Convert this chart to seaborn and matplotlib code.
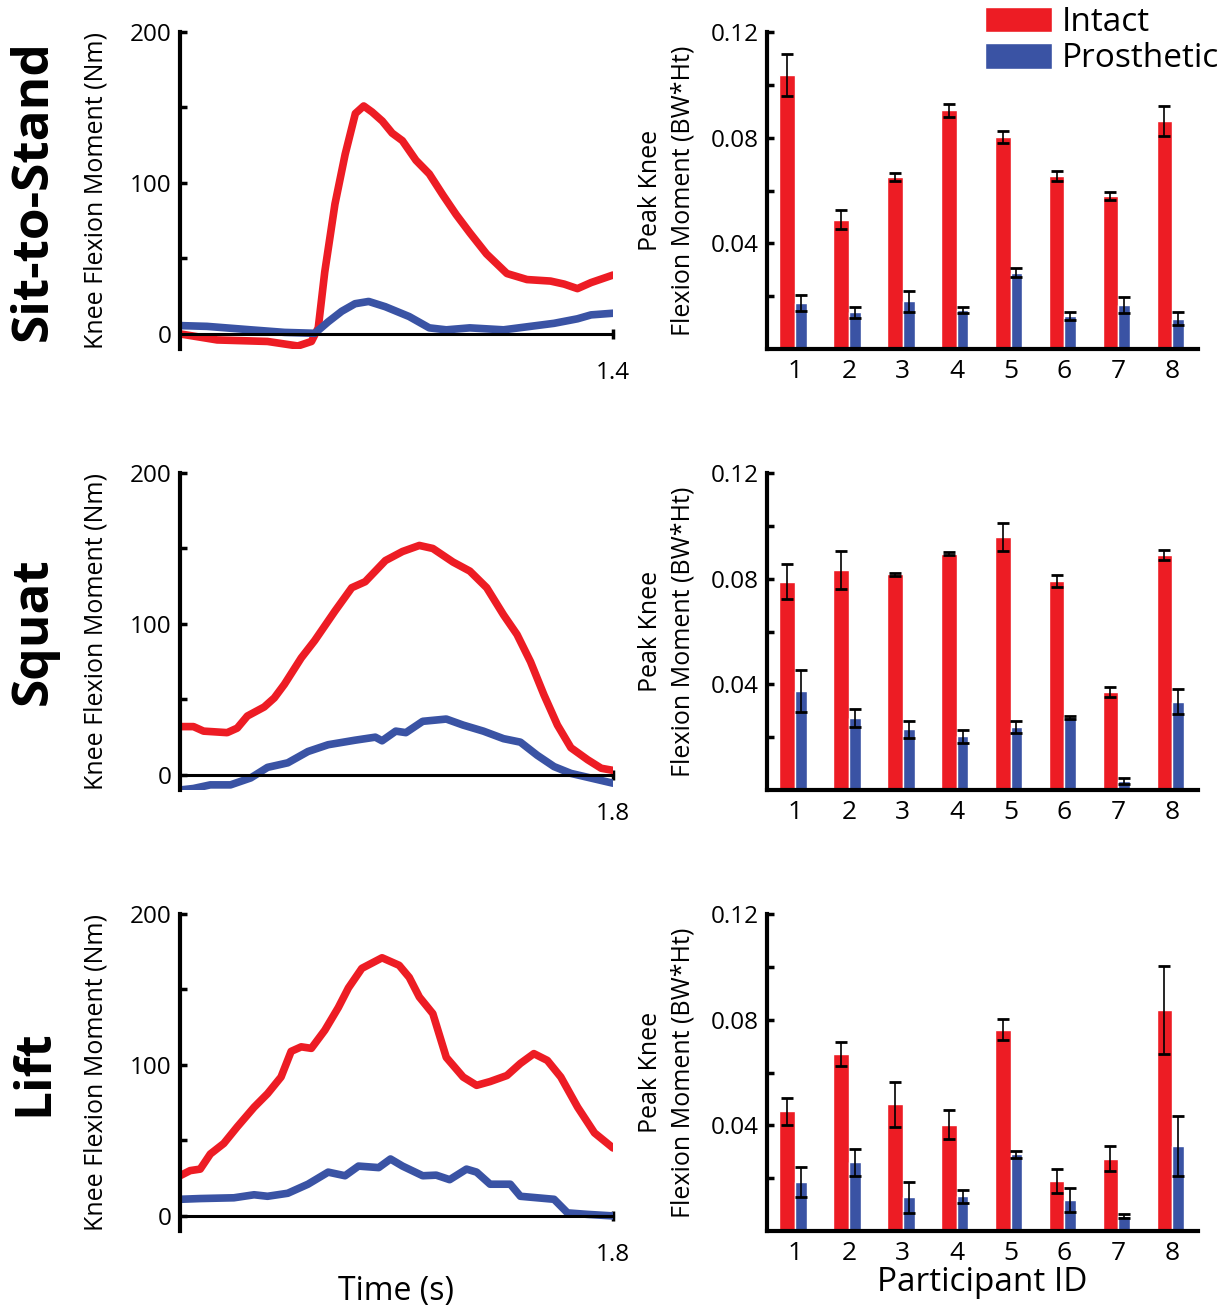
import pandas as pd
import seaborn as sns
import matplotlib.pyplot as plt
from matplotlib.patches import Patch
from matplotlib.ticker import FixedLocator

RED = '#ED1C24'
BLUE = '#3A53A4'

tasks = ['Sit-to-Stand', 'Squat', 'Lift']
durations = [1.4, 1.8, 1.8]

# knee flexion moment time series (Nm)
sts_intact_t = [0, 0.12, 0.283, 0.381, 0.425, 0.447, 0.468, 0.501, 0.534, 0.567, 0.594, 0.621, 0.654, 0.686,
                0.719, 0.763, 0.806, 0.850, 0.893, 0.937, 0.991, 1.057, 1.122, 1.198, 1.242, 1.285, 1.329, 1.40]
sts_intact = [0, -4, -5, -8, -5, 4, 41, 86, 119, 146, 151, 147, 141, 133,
              128, 115, 106, 92, 79, 67, 53, 40, 36, 35, 33, 30, 34, 39]
sts_prosth_t = [0, 0.087, 0.229, 0.338, 0.436, 0.479, 0.523, 0.566, 0.610, 0.664, 0.741, 0.806, 0.861, 0.937,
                1.046, 1.133, 1.209, 1.285, 1.329, 1.40]
sts_prosth = [5.5, 5, 2.7, 1, 0.4, 8, 15, 20, 21.5, 18, 11.5, 4, 2.7, 4,
              2.7, 5, 7, 10, 12.6, 13.7]

squat_intact_t = [0, 0.056, 0.098, 0.196, 0.238, 0.280, 0.350, 0.392, 0.434, 0.504, 0.560, 0.644, 0.714, 0.770,
                  0.854, 0.925, 0.995, 1.051, 1.135, 1.205, 1.275, 1.345, 1.401, 1.457, 1.513, 1.569, 1.625,
                  1.695, 1.751, 1.80]
squat_intact = [32, 32, 29, 28, 31, 39, 45, 51, 60, 77.5, 89, 108.5, 124, 128,
                142, 148, 152, 150, 141, 135, 124, 106, 93, 75, 53, 33, 18,
                10, 4.4, 3]
squat_prosth_t = [0, 0.056, 0.126, 0.210, 0.294, 0.364, 0.448, 0.532, 0.616, 0.728, 0.812, 0.840, 0.897, 0.939,
                  1.009, 1.107, 1.177, 1.261, 1.345, 1.415, 1.485, 1.555, 1.625, 1.80]
squat_prosth = [-10, -9, -6.6, -6.6, -2, 5, 8, 15.5, 20, 23, 25, 22.6, 29, 28,
                35.5, 37, 33, 29, 24, 21.7, 13, 5.5, 1, -5.5]

lift_intact_t = [0, 0.042, 0.084, 0.126, 0.182, 0.238, 0.308, 0.364, 0.420, 0.462, 0.504, 0.546, 0.602, 0.658,
                 0.700, 0.756, 0.840, 0.911, 0.953, 0.995, 1.051, 1.107, 1.177, 1.233, 1.289, 1.359, 1.415,
                 1.471, 1.527, 1.583, 1.653, 1.723, 1.80]
lift_intact = [26.6, 30, 31, 41, 48, 59, 72, 81, 92, 109, 112, 111, 123, 138,
               151, 164, 171, 166, 158, 145, 134, 105, 92, 86.5, 89, 93, 101,
               107.5, 103, 92, 72, 55, 45]
lift_prosth_t = [0, 0.084, 0.224, 0.308, 0.364, 0.448, 0.532, 0.616, 0.686, 0.742, 0.826, 0.875, 0.925, 1.009,
                 1.065, 1.121, 1.191, 1.233, 1.289, 1.373, 1.415, 1.485, 1.555, 1.611, 1.695, 1.80]
lift_prosth = [11, 11.5, 12, 14, 13, 15, 21, 29, 26.6, 33, 32, 37.7, 33, 26.6,
               27, 24, 31, 29, 21, 21, 13, 12, 11, 2, 1, 0]

# peak knee flexion moment (BW*Ht) per participant, mean and error
participants = [1, 2, 3, 4, 5, 6, 7, 8]
sts_peak_intact = [0.1038, 0.049, 0.0652, 0.0903, 0.0804, 0.0654, 0.0578, 0.0863]
sts_err_intact = [0.008, 0.0035, 0.0016, 0.0025, 0.0023, 0.0019, 0.0015, 0.0055]
sts_peak_prosth = [0.0175, 0.0139, 0.018, 0.0148, 0.0289, 0.0125, 0.0167, 0.0115]
sts_err_prosth = [0.003, 0.002, 0.004, 0.001, 0.0018, 0.0015, 0.003, 0.0024]

squat_peak_intact = [0.0789, 0.0832, 0.0816, 0.0895, 0.0956, 0.0791, 0.0371, 0.089]
squat_err_intact = [0.0066, 0.0073, 0.0005, 0.0006, 0.0053, 0.0022, 0.0018, 0.0018]
squat_peak_prosth = [0.0376, 0.0272, 0.023, 0.0203, 0.0238, 0.0275, 0.0034, 0.0335]
squat_err_prosth = [0.008, 0.0035, 0.0033, 0.0025, 0.0024, 0.0006, 0.0013, 0.0047]

lift_peak_intact = [0.0453, 0.0669, 0.048, 0.0403, 0.0762, 0.019, 0.0273, 0.0836]
lift_err_intact = [0.005, 0.0045, 0.0085, 0.0055, 0.004, 0.0045, 0.0047, 0.0167]
lift_peak_prosth = [0.0184, 0.026, 0.0127, 0.0131, 0.029, 0.0117, 0.0057, 0.0321]
lift_err_prosth = [0.0057, 0.005, 0.006, 0.0025, 0.0012, 0.0044, 0.0007, 0.0113]

curves = [
    (sts_intact_t, sts_intact, sts_prosth_t, sts_prosth),
    (squat_intact_t, squat_intact, squat_prosth_t, squat_prosth),
    (lift_intact_t, lift_intact, lift_prosth_t, lift_prosth),
]
peaks = [
    (sts_peak_intact, sts_err_intact, sts_peak_prosth, sts_err_prosth),
    (squat_peak_intact, squat_err_intact, squat_peak_prosth, squat_err_prosth),
    (lift_peak_intact, lift_err_intact, lift_peak_prosth, lift_err_prosth),
]

sns.set_theme(style='white')
plt.rcParams['font.family'] = ['Open Sans', 'DejaVu Sans']
plt.rcParams['text.color'] = 'black'
plt.rcParams['axes.labelcolor'] = 'black'
plt.rcParams['xtick.color'] = 'black'
plt.rcParams['ytick.color'] = 'black'

W, H = 1227, 1307
fig = plt.figure(figsize=(W / 100, H / 100), dpi=100)

row_tops = [32, 473, 914]
row_h = 317


def fig_rect(x0, x1, top):
    return [x0 / W, 1 - (top + row_h) / H, (x1 - x0) / W, row_h / H]


for i, task in enumerate(tasks):
    top = row_tops[i]

    # ---- left: time series ----
    ax = fig.add_axes(fig_rect(180, 613, top))
    t1, v1, t2, v2 = curves[i]
    sns.lineplot(x=t1, y=v1, color=RED, linewidth=5.5, ax=ax, sort=False)
    sns.lineplot(x=t2, y=v2, color=BLUE, linewidth=5.5, ax=ax, sort=False)
    ax.set_xlim(0, durations[i])
    ax.set_ylim(-10, 200)
    for s in ['top', 'right']:
        ax.spines[s].set_visible(False)
    ax.spines['left'].set_linewidth(3)
    ax.spines['left'].set_color('black')
    ax.spines['bottom'].set_position(('data', 0))
    ax.spines['bottom'].set_linewidth(2.2)
    ax.spines['bottom'].set_color('black')
    ax.set_xticks([durations[i]])
    ax.set_xticklabels([f'{durations[i]:.1f}'])
    ax.yaxis.set_major_locator(FixedLocator([0, 100, 200]))
    ax.yaxis.set_minor_locator(FixedLocator([50, 150]))
    ax.tick_params(axis='y', which='both', direction='in', length=5, width=2.5, color='black',
                   left=True, labelsize=17.5, pad=6)
    ax.tick_params(axis='x', direction='inout', length=7, width=2.5, color='black',
                   bottom=True, labelsize=17.5, pad=16)
    ax.set_ylabel('Knee Flexion Moment (Nm)', fontsize=18)
    ax.yaxis.set_label_coords(-0.165, 0.5)
    if i == 2:
        ax.set_xlabel('Time (s)', fontsize=23, labelpad=6)

    # ---- right: peak bars ----
    bx = fig.add_axes(fig_rect(767, 1198, top))
    pi, ei, pp, ep = peaks[i]
    df = pd.DataFrame({
        'Participant': participants * 2,
        'Limb': ['Intact'] * len(participants) + ['Prosthetic'] * len(participants),
        'Peak': pi + pp,
    })
    sns.barplot(data=df, x='Participant', y='Peak', hue='Limb', palette=[RED, BLUE],
                width=0.58, errorbar=None, saturation=1, legend=False, ax=bx)
    for bar in bx.containers[1]:
        bar.set_width(0.22)
    for cont, errs in zip(bx.containers, [ei, ep]):
        xs = [b.get_x() + b.get_width() / 2 for b in cont]
        ys = [b.get_height() for b in cont]
        bx.errorbar(xs, ys, yerr=errs, fmt='none', ecolor='black', elinewidth=1.2,
                    capsize=4, capthick=2)
    bx.set_xlim(-0.52, 7.48)
    bx.set_ylim(0, 0.12)
    for s in ['top', 'right']:
        bx.spines[s].set_visible(False)
    for s in ['left', 'bottom']:
        bx.spines[s].set_linewidth(3)
        bx.spines[s].set_color('black')
    bx.yaxis.set_major_locator(FixedLocator([0.04, 0.08, 0.12]))
    bx.yaxis.set_minor_locator(FixedLocator([0.02, 0.06, 0.10]))
    bx.set_yticklabels(['0.04', '0.08', '0.12'])
    bx.tick_params(axis='y', which='both', direction='in', length=5, width=2.5, color='black',
                   left=True, labelsize=17.5, pad=6)
    bx.tick_params(axis='x', length=0, labelsize=19, pad=7)
    bx.set_ylabel('Peak Knee\nFlexion Moment (BW*Ht)', fontsize=18, linespacing=1.4)
    bx.yaxis.set_label_coords(-0.165, 0.5)
    if i == 2:
        bx.set_xlabel('Participant ID', fontsize=24, labelpad=0)
    else:
        bx.set_xlabel('')

    fig.text(34 / W, 1 - (top + row_h / 2) / H, task, rotation=90, fontsize=37,
             fontweight='bold', ha='center', va='center', color='black')

handles = [Patch(facecolor=RED, label='Intact'), Patch(facecolor=BLUE, label='Prosthetic')]
fig.legend(handles=handles, loc='upper left', bbox_to_anchor=(985 / W, 1 - 6 / H),
           frameon=False, fontsize=24, handlelength=2.0, handleheight=0.8,
           handletextpad=0.3, labelspacing=0.1, borderpad=0, borderaxespad=0)

fig.savefig('out.png', dpi=100)
